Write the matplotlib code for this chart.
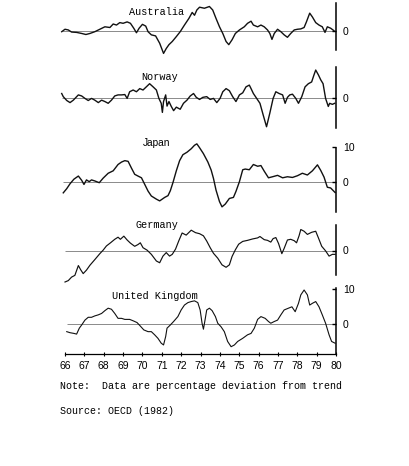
import matplotlib
matplotlib.use("Agg")
import matplotlib.pyplot as plt

# Industrial production, percentage deviation from trend
countries = ["Australia", "Norway", "Japan", "Germany", "United Kingdom"]

aus_years = [65.83, 66.00, 66.17, 66.34, 66.60, 66.86, 67.08, 67.29, 67.54, 67.80,
             68.06, 68.32, 68.49, 68.66, 68.83, 69.00, 69.21, 69.38, 69.55, 69.69,
             69.83, 70.00, 70.17, 70.29, 70.46, 70.68, 70.89, 71.09, 71.23, 71.37,
             71.54, 71.75, 71.95, 72.17, 72.40, 72.57, 72.69, 72.81, 72.95, 73.20,
             73.46, 73.63, 73.80, 73.98, 74.15, 74.32, 74.46, 74.63, 74.80, 75.01,
             75.26, 75.43, 75.61, 75.73, 75.95, 76.12, 76.29, 76.46, 76.58, 76.69,
             76.81, 76.98, 77.15, 77.32, 77.49, 77.66, 77.84, 78.01, 78.18, 78.35,
             78.47, 78.64, 78.78, 78.95, 79.12, 79.29, 79.43, 79.55, 79.72, 79.89]
aus_vals = [-0.2, 0.5, 0.3, -0.3, -0.4, -0.7, -1.0, -0.7, -0.2, 0.5,
            1.2, 1.0, 2.0, 1.7, 2.4, 2.2, 2.6, 2.2, 0.8, -0.5,
            0.8, 1.9, 1.4, -0.2, -1.1, -1.4, -3.5, -6.4, -5.0, -3.9,
            -3.0, -1.6, -0.2, 1.7, 3.6, 5.3, 4.5, 6.0, 6.8, 6.5,
            7.0, 6.0, 3.6, 1.2, -0.7, -3.0, -3.9, -2.5, -0.7, 0.3,
            1.2, 2.2, 2.8, 1.7, 1.2, 1.7, 1.2, 0.3, -0.7, -2.4,
            -0.7, 0.5, -0.2, -1.1, -1.8, -0.7, 0.3, 0.5, 0.6, 1.0,
            2.6, 5.1, 4.0, 2.4, 1.7, 1.2, -0.4, 1.2, 0.8, 0.1]

nor_years = [65.83, 65.91, 66.09, 66.26, 66.43, 66.69, 66.86, 67.03, 67.20, 67.37,
             67.54, 67.72, 67.89, 68.06, 68.23, 68.40, 68.57, 68.74, 68.92, 69.09,
             69.21, 69.34, 69.52, 69.69, 69.86, 70.03, 70.20, 70.37, 70.55, 70.72,
             70.85, 70.97, 71.03, 71.09, 71.20, 71.27, 71.37, 71.49, 71.61, 71.75,
             71.95, 72.12, 72.30, 72.47, 72.64, 72.78, 72.95, 73.12, 73.32, 73.50,
             73.67, 73.84, 74.01, 74.15, 74.32, 74.49, 74.66, 74.83, 75.01, 75.18,
             75.35, 75.52, 75.61, 75.73, 75.90, 76.07, 76.24, 76.41, 76.58, 76.75,
             76.89, 77.06, 77.24, 77.37, 77.49, 77.61, 77.75, 77.92, 78.06, 78.23,
             78.40, 78.57, 78.74, 78.86, 78.95, 79.09, 79.21, 79.33, 79.46, 79.60,
             79.67, 79.81, 79.93]
nor_vals = [1.2, 0.3, -0.8, -1.4, -0.7, 0.8, 0.5, -0.2, -0.8, -0.2,
            -0.7, -1.4, -0.7, -1.1, -1.6, -0.7, 0.5, 0.8, 0.8, 0.9,
            -0.2, 1.7, 2.2, 1.7, 2.6, 2.2, 3.1, 4.0, 3.1, 2.2,
            -0.2, -1.6, -4.2, -1.1, 0.8, -2.4, -1.1, -2.5, -3.7, -2.7,
            -3.3, -1.6, -0.7, 0.5, 1.2, 0.1, -0.5, 0.1, 0.3, -0.5,
            -0.2, -1.4, -0.2, 1.7, 2.6, 2.0, 0.3, -1.1, 0.8, 1.4,
            3.1, 3.6, 2.6, 1.2, -0.2, -1.6, -5.0, -8.3, -4.4, -0.2,
            1.7, 1.2, 0.8, -1.6, 0.1, 0.8, 1.0, -0.2, -1.6, 0.3,
            3.1, 4.0, 4.5, 6.5, 7.9, 6.5, 5.1, 4.0, -0.2, -2.5,
            -1.6, -1.9, -1.6]

jpn_years = [65.91, 66.09, 66.26, 66.46, 66.69, 66.86, 66.98, 67.11, 67.25, 67.37,
             67.54, 67.77, 67.97, 68.23, 68.49, 68.74, 68.92, 69.09, 69.26, 69.43,
             69.60, 69.77, 69.95, 70.12, 70.29, 70.46, 70.72, 70.89, 71.15, 71.32,
             71.44, 71.58, 71.75, 71.92, 72.09, 72.30, 72.52, 72.69, 72.81, 72.95,
             73.15, 73.38, 73.55, 73.67, 73.80, 73.98, 74.11, 74.28, 74.49, 74.70,
             74.83, 75.01, 75.18, 75.31, 75.52, 75.73, 75.95, 76.12, 76.29, 76.51,
             76.72, 76.98, 77.24, 77.49, 77.75, 78.01, 78.26, 78.52, 78.78, 79.04,
             79.21, 79.38, 79.55, 79.72, 79.95]
jpn_vals = [-3.1, -1.9, -0.5, 0.8, 1.7, 0.5, -0.7, 0.6, 0.1, 0.6,
            0.3, -0.2, 1.1, 2.5, 3.2, 5.0, 5.7, 6.1, 5.9, 4.0,
            2.2, 1.7, 1.2, -0.7, -2.6, -4.0, -4.9, -5.4, -4.4, -3.9,
            -2.5, -0.1, 3.2, 6.1, 7.8, 8.5, 9.5, 10.5, 10.9, 9.8,
            8.1, 5.7, 3.4, 1.0, -2.3, -5.6, -7.1, -6.3, -4.7, -4.4,
            -2.7, 0.1, 3.5, 3.7, 3.5, 5.0, 4.5, 4.7, 3.1, 1.2,
            1.5, 1.9, 1.2, 1.5, 1.3, 1.8, 2.5, 2.0, 3.2, 4.9,
            3.3, 1.4, -1.5, -1.7, -3.0]

ger_years = [66.00, 66.17, 66.34, 66.51, 66.69, 66.81, 66.94, 67.11, 67.29, 67.54,
             67.80, 67.97, 68.14, 68.35, 68.57, 68.74, 68.86, 69.04, 69.21, 69.38,
             69.60, 69.77, 69.89, 70.03, 70.24, 70.46, 70.72, 70.89, 71.06, 71.23,
             71.40, 71.54, 71.71, 71.88, 72.05, 72.26, 72.52, 72.74, 72.95, 73.15,
             73.32, 73.50, 73.67, 73.89, 74.11, 74.32, 74.49, 74.63, 74.80, 74.97,
             75.18, 75.43, 75.69, 75.95, 76.07, 76.29, 76.46, 76.63, 76.75, 76.89,
             77.03, 77.20, 77.32, 77.49, 77.66, 77.84, 77.96, 78.09, 78.18, 78.35,
             78.52, 78.74, 78.95, 79.09, 79.26, 79.46, 79.64, 79.81, 79.95]
ger_vals = [-9.0, -8.6, -7.6, -7.1, -4.3, -5.5, -6.6, -5.6, -4.2, -2.6,
            -0.9, 0.1, 1.3, 2.2, 3.2, 3.8, 3.2, 4.1, 3.0, 2.1,
            1.2, 1.7, 2.2, 0.8, 0.1, -1.1, -3.0, -3.5, -1.6, -0.6,
            -1.6, -1.1, 0.4, 2.8, 5.0, 4.4, 5.8, 5.1, 4.8, 4.2,
            2.7, 0.8, -0.8, -2.2, -4.1, -4.8, -4.1, -1.7, 0.2, 1.8,
            2.6, 2.9, 3.3, 3.6, 4.0, 3.1, 2.9, 2.4, 3.4, 3.7,
            2.0, -0.9, 0.6, 3.0, 3.2, 2.8, 2.2, 4.2, 6.0, 5.5,
            4.6, 5.2, 5.5, 3.6, 1.2, -0.1, -1.6, -1.1, -1.1]

uk_years = [66.09, 66.26, 66.46, 66.60, 66.74, 66.86, 67.03, 67.20, 67.37, 67.54,
            67.72, 67.89, 68.06, 68.23, 68.40, 68.57, 68.74, 68.92, 69.09, 69.34,
            69.52, 69.72, 69.89, 70.07, 70.29, 70.46, 70.63, 70.80, 70.97, 71.09,
            71.20, 71.27, 71.44, 71.61, 71.83, 72.00, 72.17, 72.35, 72.52, 72.69,
            72.86, 72.98, 73.08, 73.15, 73.22, 73.32, 73.46, 73.60, 73.77, 73.89,
            74.06, 74.23, 74.40, 74.58, 74.75, 74.92, 75.18, 75.43, 75.61, 75.78,
            75.95, 76.12, 76.34, 76.51, 76.63, 76.81, 76.98, 77.15, 77.32, 77.54,
            77.72, 77.89, 78.06, 78.18, 78.35, 78.52, 78.64, 78.78, 78.95, 79.12,
            79.29, 79.46, 79.64, 79.77, 79.95]
uk_vals = [-2.1, -2.4, -2.6, -2.8, -1.1, -0.2, 1.2, 2.0, 2.0, 2.4,
           2.7, 3.1, 3.9, 4.6, 4.3, 3.1, 1.7, 1.7, 1.4, 1.4,
           1.0, 0.5, -0.5, -1.6, -2.1, -2.1, -3.0, -4.0, -5.4, -5.9,
           -3.5, -1.1, -0.2, 0.8, 2.2, 4.1, 5.5, 6.2, 6.5, 6.7,
           6.2, 4.1, 0.3, -1.4, 0.8, 4.1, 4.6, 3.9, 2.2, 0.3,
           -0.7, -2.1, -4.9, -6.4, -5.9, -4.9, -4.0, -3.0, -2.6, -1.1,
           1.4, 2.2, 1.7, 0.8, 0.3, 0.8, 1.2, 2.7, 4.1, 4.6,
           5.0, 3.6, 6.0, 8.4, 9.8, 8.4, 5.5, 6.0, 6.5, 5.0,
           2.7, 0.3, -3.0, -4.9, -5.4]

year_ticks = list(range(66, 81))
year_labels = [str(y) for y in year_ticks]

series = [(aus_years, aus_vals), (nor_years, nor_vals), (jpn_years, jpn_vals),
          (ger_years, ger_vals), (uk_years, uk_vals)]

# layout (pixels from top of a 410x466 canvas)
W, H = 410, 466
PPU = 3.5                                  # pixels per percentage point
zero_px = [31, 97.7, 182, 250.5, 324.3]
ylims = [(-8, 8.5), (-9, 9.2), (-10, 12), (-10, 10), (-8.6, 12)]
vbounds = [(-5.4, 8.0), (-8.7, 8.8), (-8.6, 9.8), (-7.0, 7.3), (-8.6, 10.3)]
right_ticks = [[0], [0], [0, 10], [0], [0, 10]]
title_pos = [(157, 12), (160, 77), (157, 143), (157, 225), (155, 296)]
line_w = [1.0, 1.0, 1.0, 0.85, 0.8]

xlo, xhi = 65.2, 81.2
ax_left_px = 65 - (66 - xlo) * 19.36
ax_w_px = (xhi - xlo) * 19.36

fig = plt.figure(figsize=(W / 100, H / 100), dpi=100)

mono = "Liberation Mono"

for i, name in enumerate(countries):
    lo, hi = ylims[i]
    top_px = zero_px[i] - hi * PPU
    h_px = (hi - lo) * PPU
    ax = fig.add_axes([ax_left_px / W, 1 - (top_px + h_px) / H, ax_w_px / W, h_px / H])
    ax.patch.set_alpha(0)
    x, y = series[i]
    ax.hlines(0, x[0], 80, color="#8a8a8a", lw=0.7, zorder=1)
    ax.plot(x, y, color="#111111", lw=line_w[i], zorder=2)
    ax.set_xlim(xlo, xhi)
    ax.set_ylim(lo, hi)

    for s in ["top", "left"]:
        ax.spines[s].set_visible(False)
    ax.spines["right"].set_position(("data", 80))
    ax.spines["right"].set_bounds(*vbounds[i])
    ax.spines["right"].set_linewidth(1.1)
    ax.yaxis.tick_right()
    ax.set_yticks(right_ticks[i])
    ax.set_yticklabels([str(t) for t in right_ticks[i]], fontsize=7.5,
                       family="Liberation Sans")
    ax.tick_params(axis="y", direction="in", length=3, width=1.0, pad=5)

    if i == len(countries) - 1:
        ax.spines["bottom"].set_bounds(66, 80)
        ax.spines["bottom"].set_linewidth(0.9)
        ax.set_xticks(year_ticks)
        ax.set_xticklabels(year_labels, fontsize=7.5, family="Liberation Sans")
        ax.tick_params(axis="x", direction="inout", length=3, width=0.8, pad=3)
    else:
        ax.spines["bottom"].set_visible(False)
        ax.set_xticks([])

    fam = "Liberation Sans" if name == "Japan" else mono
    fig.text(title_pos[i][0] / W, 1 - title_pos[i][1] / H, name,
             ha="center", va="center", fontsize=7.3, family=fam)

fig.text(60 / W, 1 - 386 / H, "Note:  Data are percentage deviation from trend",
         ha="left", va="center", fontsize=7.2, family=mono)
fig.text(60 / W, 1 - 411 / H, "Source: OECD (1982)",
         ha="left", va="center", fontsize=7.2, family=mono)

fig.savefig("out.png", dpi=100, facecolor="white")
